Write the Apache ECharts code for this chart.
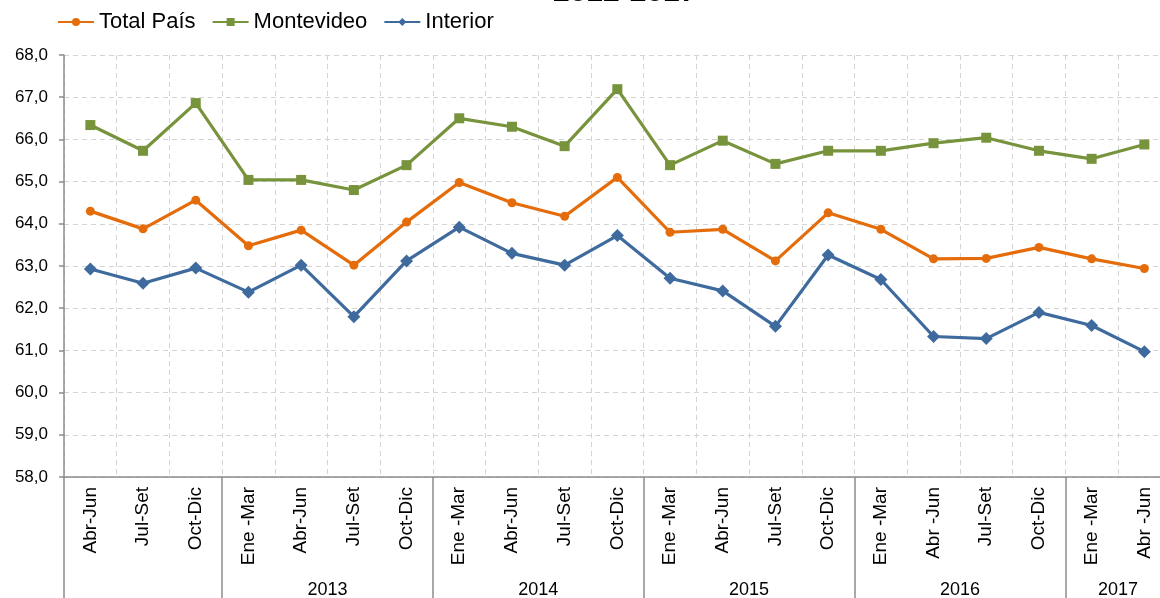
<!DOCTYPE html>
<html>
<head>
<meta charset="utf-8">
<script src="https://cdn.jsdelivr.net/npm/echarts@6/dist/echarts.min.js"></script>
<style>
  html, body { margin: 0; padding: 0; background: #fff; }
  #chart { width: 1160px; height: 598px; }
</style>
</head>
<body>
<div id="chart"></div>
<script>
// quarters, one per point
var categories = ['Abr-Jun', 'Jul-Set', 'Oct-Dic',
    'Ene -Mar', 'Abr-Jun', 'Jul-Set', 'Oct-Dic',
    'Ene -Mar', 'Abr-Jun', 'Jul-Set', 'Oct-Dic',
    'Ene -Mar', 'Abr-Jun', 'Jul-Set', 'Oct-Dic',
    'Ene -Mar', 'Abr -Jun', 'Jul-Set', 'Oct-Dic',
    'Ene -Mar', 'Abr -Jun'];

// year row: one slot per boundary (22 of them), label sits in the middle of its group
var yearLabels = ['', '', '', '', '', '2013', '', '', '', '2014', '', '', '', '2015', '', '', '', '2016', '', '', '2017', ''];
var yearBreaks = [0, 3, 7, 11, 15, 19, 21];

var totalPais = [64.30, 63.88, 64.56, 63.48, 63.85, 63.02, 64.04, 64.98, 64.50, 64.18, 65.10,
    63.80, 63.87, 63.12, 64.26, 63.87, 63.17, 63.18, 63.44, 63.17, 62.94];
var montevideo = [66.34, 65.73, 66.86, 65.04, 65.04, 64.80, 65.39, 66.50, 66.30, 65.84, 67.19,
    65.39, 65.97, 65.42, 65.73, 65.73, 65.91, 66.04, 65.73, 65.54, 65.88];
var interior = [62.93, 62.59, 62.95, 62.38, 63.02, 61.80, 63.12, 63.92, 63.30, 63.02, 63.72,
    62.71, 62.41, 61.57, 63.26, 62.68, 61.33, 61.28, 61.90, 61.59, 60.97];

var FONT = '"Liberation Sans", Arial, sans-serif';
var AXIS_GRAY = '#8c8c8c';

var chart = echarts.init(document.getElementById('chart'), null, { renderer: 'canvas' });

var option = {
    animation: false,
    backgroundColor: '#fff',
    title: {
        text: '2012-2017',
        left: 553,
        top: -22,
        padding: 0,
        textStyle: { fontFamily: FONT, fontSize: 30, fontWeight: 'bold', color: '#000' }
    },
    legend: {
        left: 57,
        top: 11,
        padding: 0,
        itemWidth: 36,
        itemHeight: 10,
        itemGap: 16,
        textStyle: { fontFamily: FONT, fontSize: 22, color: '#000' },
        data: ['Total País', 'Montevideo', 'Interior']
    },
    grid: {
        left: 64,
        top: 55,
        height: 422,
        width: 1106.7,
        outerBoundsMode: 'none'
    },
    xAxis: [
        {
            type: 'category',
            data: categories,
            boundaryGap: true,
            axisLine: { lineStyle: { color: AXIS_GRAY, width: 1.5 } },
            axisTick: { interval: 0, length: 92, lineStyle: { color: AXIS_GRAY, width: 1.5 } },
            axisLabel: {
                interval: 0,
                rotate: 90,
                margin: 10,
                fontFamily: FONT,
                fontSize: 19,
                color: '#000'
            },
            splitLine: { show: true, interval: 0, lineStyle: { color: '#d4d4d4', type: [5, 4], width: 1 } }
        },
        {
            type: 'category',
            data: yearLabels,
            boundaryGap: false,
            position: 'bottom',
            axisLine: { show: false },
            axisTick: {
                length: 130,
                interval: function (index) { return yearBreaks.indexOf(index) >= 0; },
                lineStyle: { color: AXIS_GRAY, width: 1.5 }
            },
            axisLabel: {
                interval: function (index, value) { return value !== ''; },
                margin: 104,
                fontFamily: FONT,
                fontSize: 18,
                color: '#000',
                hideOverlap: false
            },
            splitLine: { show: false }
        }
    ],
    yAxis: {
        type: 'value',
        min: 58,
        max: 68,
        interval: 1,
        axisLine: { show: true, lineStyle: { color: AXIS_GRAY, width: 1.5 } },
        axisTick: { show: true, length: 5, lineStyle: { color: AXIS_GRAY, width: 1.5 } },
        axisLabel: {
            margin: 16,
            fontFamily: FONT,
            fontSize: 17,
            color: '#000',
            formatter: function (v) { return v.toFixed(1).replace('.', ','); }
        },
        splitLine: { show: true, lineStyle: { color: '#d4d4d4', type: [5, 4], width: 1 } }
    },
    series: [
        {
            name: 'Total País',
            type: 'line',
            data: totalPais,
            symbol: 'circle',
            symbolSize: 9,
            color: '#e46c0a',
            lineStyle: { width: 3.2 },
            z: 3
        },
        {
            name: 'Montevideo',
            type: 'line',
            data: montevideo,
            symbol: 'rect',
            symbolSize: 10,
            color: '#77933c',
            lineStyle: { width: 3.2 },
            z: 3
        },
        {
            name: 'Interior',
            type: 'line',
            data: interior,
            symbol: 'diamond',
            symbolSize: 13,
            color: '#3f6a9e',
            lineStyle: { width: 3.2 },
            z: 3
        }
    ]
};

chart.setOption(option);
</script>
</body>
</html>
